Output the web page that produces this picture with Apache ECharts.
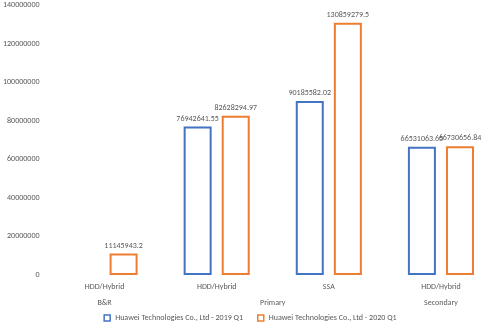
<!DOCTYPE html>
<html>
<head>
<meta charset="utf-8">
<script src="https://cdn.jsdelivr.net/npm/echarts@6/dist/echarts.min.js"></script>
<style>
  html, body { margin: 0; padding: 0; background: #ffffff; }
  #chart { width: 500px; height: 327px; }
</style>
</head>
<body>
<div id="chart"></div>
<script>
// Storage segments: sub-category per bar slot, grouped by market
const subCategories = ['HDD/Hybrid', 'HDD/Hybrid', 'SSA', 'HDD/Hybrid'];
const groupNames = ['B&R', 'Primary', 'Secondary'];
// group label positions on a 0..8 helper scale (each slot spans 2 units)
const groupPositions = [1, 4, 7];

const seriesNames = ['Huawei Technologies Co., Ltd - 2019 Q1', 'Huawei Technologies Co., Ltd - 2020 Q1'];
const values2019 = [null, 76942641.55, 90185582.02, 66531063.65];
const values2020 = [11145943.2, 82628294.97, 130859279.5, 66730656.84];

const yTicks = { min: 0, max: 140000000, interval: 20000000 };

const textColor = '#595959';
const fontFamily = 'Calibri, Carlito, "Liberation Sans", "Open Sans", sans-serif';
const colors = ['#4472C4', '#ED7D31'];

const chart = echarts.init(document.getElementById('chart'), null, { renderer: 'canvas' });

function barSeries(name, data, color) {
  return {
    name: name,
    type: 'bar',
    data: data,
    barWidth: 28,
    barGap: '36%',
    itemStyle: { color: '#ffffff', borderColor: color, borderWidth: 2 },
    label: {
      show: true,
      position: 'top',
      distance: 4,
      color: textColor,
      fontSize: 8,
      fontFamily: fontFamily,
      formatter: p => String(p.value)
    }
  };
}

chart.setOption({
  animation: false,
  color: colors,
  grid: { left: 47, right: 2, top: 5, bottom: 52, containLabel: false },
  legend: {
    top: 314,
    left: 'center',
    icon: 'rect',
    itemWidth: 6,
    itemHeight: 6,
    itemGap: 14,
    padding: 0,
    textStyle: { color: textColor, fontSize: 8, fontFamily: fontFamily },
    data: seriesNames.map((n, i) => ({
      name: n,
      itemStyle: { color: '#ffffff', borderColor: colors[i], borderWidth: 1.5 }
    }))
  },
  xAxis: [
    {
      type: 'category',
      data: subCategories,
      axisLine: { show: false },
      axisTick: { show: false },
      axisLabel: { color: textColor, fontSize: 8, fontFamily: fontFamily, margin: 8, interval: 0 }
    },
    {
      type: 'value',
      position: 'bottom',
      offset: 16,
      min: 0,
      max: 8,
      interval: 1,
      axisLine: { show: false },
      axisTick: { show: false },
      splitLine: { show: false },
      axisLabel: {
        color: textColor,
        fontSize: 8,
        fontFamily: fontFamily,
        showMinLabel: true,
        showMaxLabel: true,
        formatter: v => {
          const i = groupPositions.indexOf(v);
          return i >= 0 ? groupNames[i] : '';
        }
      }
    }
  ],
  yAxis: {
    type: 'value',
    min: yTicks.min,
    max: yTicks.max,
    interval: yTicks.interval,
    axisLine: { show: false },
    axisTick: { show: false },
    splitLine: { show: false },
    axisLabel: {
      color: textColor,
      fontSize: 8,
      fontFamily: fontFamily,
      margin: 9,
      formatter: v => String(v)
    }
  },
  series: [
    barSeries(seriesNames[0], values2019, colors[0]),
    barSeries(seriesNames[1], values2020, colors[1])
  ]
});
</script>
</body>
</html>
